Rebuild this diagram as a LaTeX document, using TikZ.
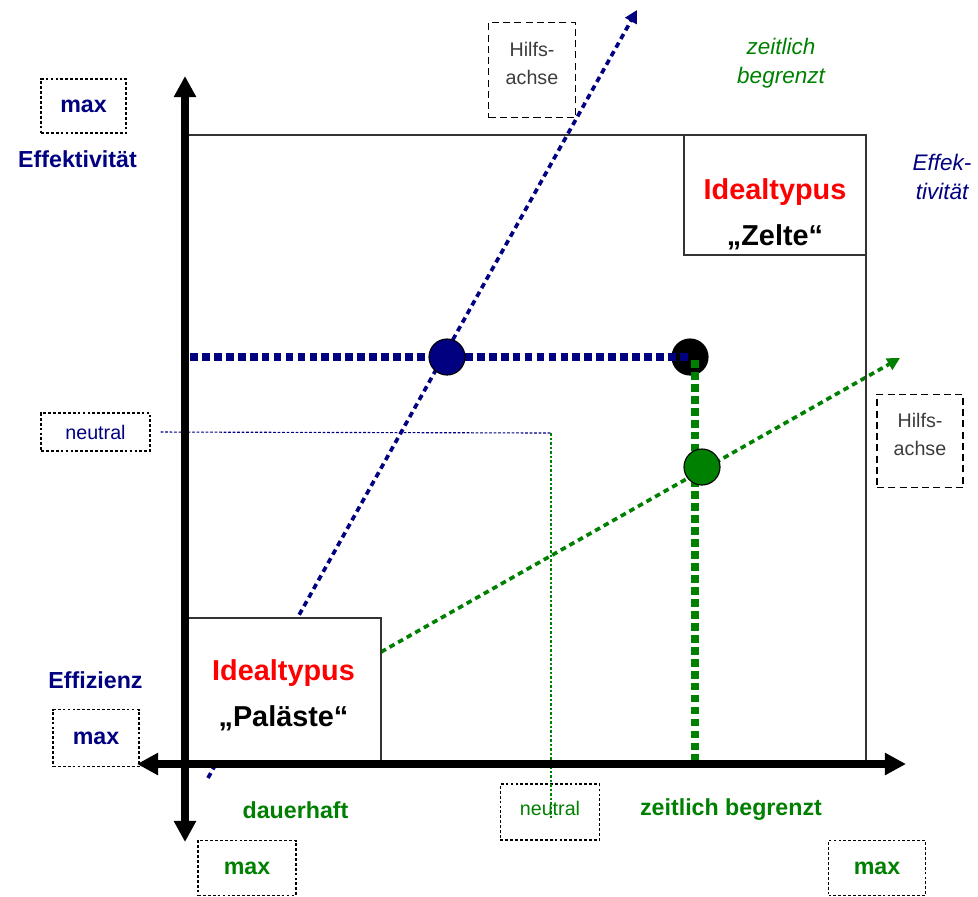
\documentclass[tikz,border=0pt]{standalone}
\usepackage{fontspec}
\setmainfont{Liberation Sans}
\usetikzlibrary{arrows.meta,positioning}
\definecolor{effblue}{RGB}{0,0,128}
\definecolor{effgreen}{RGB}{0,128,0}
\definecolor{typred}{RGB}{255,0,0}
\definecolor{hilfgray}{RGB}{60,60,60}
\tikzset{
  axisarr/.style={line width=5.7pt,
                  {Triangle[length=15pt,width=15pt]}-{Triangle[length=15pt,width=15pt]}},
  hilfarr/.style={-{Triangle[length=9pt,width=9pt]}, line width=2.6pt,
                  dash pattern=on 4pt off 3pt},
  mainline/.style={line width=5pt, dash pattern=on 5.5pt off 3pt},
  thinline/.style={line width=0.8pt, dash pattern=on 2pt off 1.2pt},
  maxbox/.style={draw, dash pattern=on 2pt off 1.5pt, line width=0.9pt,
                 inner sep=0pt, font=\bfseries\fontsize{16.5}{20}\selectfont},
  neutbox/.style={draw, dash pattern=on 2pt off 1.5pt, line width=0.9pt,
                  inner sep=0pt, font=\fontsize{14}{17}\selectfont},
  hilfsbox/.style={draw, dash pattern=on 5pt off 3pt, line width=0.8pt,
                   inner sep=0pt, align=center, text=hilfgray,
                   font=\fontsize{14}{20}\selectfont},
  typbox/.style={draw=black!80, fill=white, line width=1pt, inner sep=0pt},
  typtext/.style={align=center, font=\bfseries\fontsize{20.5}{33}\selectfont},
  axlabel/.style={font=\bfseries\fontsize{16.5}{20}\selectfont},
  itlabel/.style={align=center, font=\itshape\fontsize{16}{21}\selectfont},
  dot/.style={circle, draw=black, line width=0.8pt, minimum size=0.9cm, inner sep=0pt}
}

\begin{document}
\begin{tikzpicture}[x=0.025cm, y=-0.025cm]
  \useasboundingbox (0,0) rectangle (978,896);

  % auxiliary axes
  \coordinate (bstart) at (208,778);
  \coordinate (bend) at (637,10);
  \coordinate (gstart) at (381,652);
  \coordinate (gend) at (900,358);
  \draw[hilfarr, effblue] (bstart) -- (bend);
  \draw[hilfarr, effgreen] (gstart) -- (gend);

  % frame and ideal types
  \coordinate (o) at (185,764);
  \coordinate (ftop) at (866,135);
  \draw[black!80, line width=1pt] (o) rectangle (ftop);
  \node[typbox, minimum width=4.55cm, minimum height=3cm] (zelte) at (775,195) {};
  \node[typtext] (zeltetxt) at (775,214) {\textcolor{typred}{Idealtypus}\\„Zelte“};
  \node[typbox, minimum width=4.875cm, minimum height=3.65cm] (palast) at (283.5,691) {};
  \node[typtext] (palasttxt) at (283.5,695) {\textcolor{typred}{Idealtypus}\\„Paläste“};

  % neutral lines
  \node[neutbox, text=effblue, minimum width=2.725cm, minimum height=0.95cm] (neutl) at (95.5,432) {neutral\hspace{8pt}};
  \node[neutbox, text=effgreen, minimum width=2.475cm, minimum height=1.4cm] (neutb) at (550,812) {\raisebox{5pt}{neutral}};
  \coordinate (neutc) at (551,433);
  \coordinate (neutx) at (551,818);
  \draw[thinline, effblue, shorten <=0.25cm] (neutl.east) -- (neutc);
  \draw[thinline, effgreen] (neutc) -- (neutx);

  % working point
  \node[dot, fill=black] (pblack) at (690,357) {};
  \coordinate (effy) at (190,357);
  \coordinate (gtop) at (695,360);
  \coordinate (effx) at (695,764);
  \draw[mainline, effblue] (effy) -- (pblack.center);
  \draw[mainline, effgreen] (gtop) -- (effx);
  \node[dot, fill=effblue] (pblue) at (447,357) {};
  \node[dot, fill=effgreen] (pgreen) at (702,467) {};

  % main axes
  \coordinate (vtop) at (185,76);
  \coordinate (vbot) at (185,842);
  \coordinate (hleft) at (137,764);
  \coordinate (hright) at (906,764);
  \draw[axisarr] (vbot) -- (vtop);
  \draw[axisarr] (hleft) -- (hright);

  % labels
  \node[maxbox, text=effblue, minimum width=2.125cm, minimum height=1.35cm] (maxeff) at (83.5,106) {max};
  \node[axlabel, text=effblue] (efftxt) at (77.5,159) {Effektivität};
  \node[axlabel, text=effblue] (effiz) at (95.5,680) {Effizienz};
  \node[maxbox, text=effblue, minimum width=2.15cm, minimum height=1.425cm] (maxeffiz) at (96,738) {max\hspace{10pt}};
  \node[maxbox, text=effgreen, minimum width=2.45cm, minimum height=1.375cm] (maxdauer) at (247,868) {max\hspace{18pt}};
  \node[axlabel, text=effgreen] (dauer) at (295.5,810) {dauerhaft};
  \node[axlabel, text=effgreen] (zeitb) at (731,810) {zeitlich begrenzt};
  \node[maxbox, text=effgreen, minimum width=2.425cm, minimum height=1.375cm] (maxzeit) at (877,868) {max\hspace{18pt}};
  \node[hilfsbox, minimum width=2.175cm, minimum height=2.375cm] (hilfsb) at (532,70) {Hilfs-\\achse\\[-10pt]};
  \node[hilfsbox, minimum width=2.15cm, minimum height=2.325cm] (hilfsg) at (920,441) {Hilfs-\\achse\\[-10pt]};
  \node[itlabel, text=effgreen] (zeitit) at (781,63) {zeitlich\\begrenzt};
  \node[itlabel, text=effblue] (effit) at (942,177) {Effek-\\tivität};
\end{tikzpicture}
\end{document}
